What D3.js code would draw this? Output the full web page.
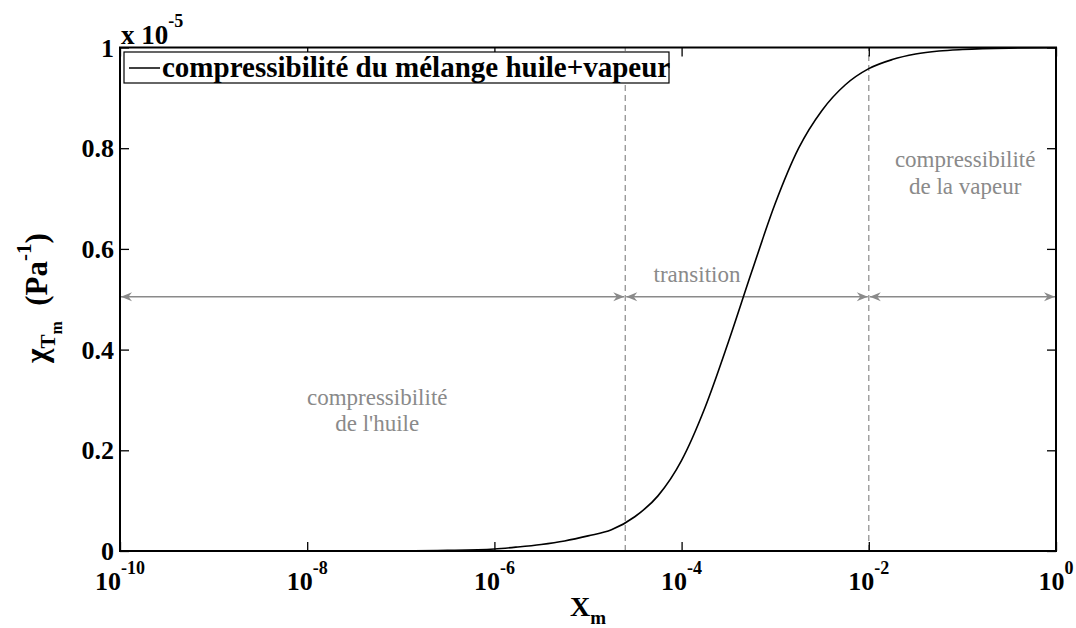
<!DOCTYPE html>
<html>
<head>
<meta charset="utf-8">
<script src="https://cdn.jsdelivr.net/npm/d3@7"></script>
<style>
  body { margin: 0; background: #fff; }
  text { font-family: "Liberation Serif", "Times New Roman", serif; }
</style>
</head>
<body>
<svg id="chart" width="1076" height="628"></svg>
<script>
// Mass fraction of vapour in the mixture (log scale)
const xm = [1e-10, 1e-9, 1e-8, 1e-7, 3.16e-7, 1e-6, 1.78e-6, 3.16e-6, 5.62e-6,
            1e-5, 1.78e-5, 3.16e-5, 5.62e-5, 1e-4, 1.78e-4, 3.16e-4, 5.62e-4,
            1e-3, 1.78e-3, 3.16e-3, 5.62e-3, 1e-2, 1.78e-2, 3.16e-2, 5.62e-2,
            1e-1, 3.16e-1, 1];
// Isothermal compressibility of the oil+vapour mixture, in units of 1e-5 Pa^-1
const chi = [0, 0, 0, 0.0003, 0.0012, 0.004, 0.008, 0.013, 0.02,
             0.03, 0.042, 0.068, 0.11, 0.18, 0.285, 0.415, 0.555,
             0.69, 0.80, 0.875, 0.926, 0.958, 0.976, 0.987, 0.993,
             0.996, 0.9988, 0.9996];

const xTickExp = [-10, -8, -6, -4, -2, 0];
const yTicks = [0, 0.2, 0.4, 0.6, 0.8, 1];
const yTickLabels = ["0", "0.2", "0.4", "0.6", "0.8", "1"];
const yExponent = "-5";

// Region boundaries (dashed lines) and the level of the span arrows
const boundaries = [2.5e-5, 1e-2];
const arrowLevel = 0.505;
const legendLabel = "compressibilité du mélange huile+vapeur";
const regionNotes = [
  { lines: ["compressibilité", "de l'huile"], x: 5.6e-8, y: 0.29 },
  { lines: ["transition"], x: 1.46e-4, y: 0.534 },
  { lines: ["compressibilité", "de la vapeur"], x: 0.107, y: 0.762 }
];

const W = 1076, H = 628;
const m = { left: 120, right: 1056, top: 47.5, bottom: 551 };
const svg = d3.select("#chart");

const x = d3.scaleLog().domain([1e-10, 1]).range([m.left, m.right]);
const y = d3.scaleLinear().domain([0, 1]).range([m.bottom, m.top]);

const tickFont = 26, supFont = 18;
const grey = "#8a8a8a";

// Arrowhead markers (MATLAB vback2 style)
const defs = svg.append("defs");
function marker(id, dir) {
  const mk = defs.append("marker")
    .attr("id", id).attr("viewBox", "-12 -6 14 12")
    .attr("refX", 0).attr("refY", 0)
    .attr("markerWidth", 14).attr("markerHeight", 12)
    .attr("markerUnits", "userSpaceOnUse")
    .attr("orient", dir);
  mk.append("path").attr("d", "M0,0 L-11,-4.5 L-7.5,0 L-11,4.5 Z").attr("fill", grey);
}
marker("arrowEnd", "auto");
marker("arrowStart", "auto-start-reverse");

// Dashed boundaries
svg.selectAll("line.bound").data(boundaries).join("line")
  .attr("class", "bound")
  .attr("x1", d => x(d)).attr("x2", d => x(d))
  .attr("y1", m.bottom).attr("y2", m.top)
  .attr("stroke", grey).attr("stroke-width", 1.2)
  .attr("stroke-dasharray", "6,4");

// Span arrows between the boundaries
const spans = [[1e-10, boundaries[0]], [boundaries[0], boundaries[1]], [boundaries[1], 1]];
svg.selectAll("line.span").data(spans).join("line")
  .attr("class", "span")
  .attr("x1", d => x(d[0]) + 1).attr("x2", d => x(d[1]) - 1)
  .attr("y1", y(arrowLevel)).attr("y2", y(arrowLevel))
  .attr("stroke", grey).attr("stroke-width", 1.6)
  .attr("marker-start", "url(#arrowStart)")
  .attr("marker-end", "url(#arrowEnd)");

// Region notes
regionNotes.forEach(n => {
  const t = svg.append("text")
    .attr("text-anchor", "middle")
    .attr("fill", grey).attr("font-size", 23);
  n.lines.forEach((l, i) => {
    t.append("tspan").attr("x", x(n.x)).attr("y", y(n.y) + i * 26.5).text(l);
  });
});

// Curve
const line = d3.line()
  .x((d, i) => x(xm[i]))
  .y(d => y(d))
  .curve(d3.curveMonotoneX);
svg.append("path").datum(chi)
  .attr("d", line)
  .attr("fill", "none").attr("stroke", "#000").attr("stroke-width", 1.6);

// Axes: inward ticks on all four sides
const xTickVals = xTickExp.map(e => Math.pow(10, e));
const tickLen = 9;
function styleAxis(g) {
  g.select(".domain").remove();
  g.selectAll(".tick line").attr("stroke", "#000").attr("stroke-width", 1.3);
  g.selectAll(".tick text").remove();
}
svg.append("g").attr("transform", `translate(0,${m.bottom})`)
  .call(d3.axisBottom(x).tickValues(xTickVals).tickSizeInner(-tickLen).tickSizeOuter(0))
  .call(styleAxis);
svg.append("g").attr("transform", `translate(0,${m.top})`)
  .call(d3.axisTop(x).tickValues(xTickVals).tickSizeInner(-tickLen).tickSizeOuter(0))
  .call(styleAxis);
svg.append("g").attr("transform", `translate(${m.left},0)`)
  .call(d3.axisLeft(y).tickValues(yTicks).tickSizeInner(-tickLen).tickSizeOuter(0))
  .call(styleAxis);
svg.append("g").attr("transform", `translate(${m.right},0)`)
  .call(d3.axisRight(y).tickValues(yTicks).tickSizeInner(-tickLen).tickSizeOuter(0))
  .call(styleAxis);

// Axes box
svg.append("rect")
  .attr("x", m.left).attr("y", m.top)
  .attr("width", m.right - m.left).attr("height", m.bottom - m.top)
  .attr("fill", "none").attr("stroke", "#000").attr("stroke-width", 2);

// X tick labels 10^e
xTickExp.forEach(e => {
  const t = svg.append("text")
    .attr("x", x(Math.pow(10, e))).attr("y", 590)
    .attr("text-anchor", "middle")
    .attr("font-weight", "bold").attr("font-size", tickFont);
  t.append("tspan").text("10");
  t.append("tspan").attr("font-size", supFont).attr("dy", -16).text(String(e));
});

// Y tick labels
svg.selectAll("text.ytick").data(yTicks).join("text")
  .attr("class", "ytick")
  .attr("x", m.left - 6).attr("y", d => y(d) + 9)
  .attr("text-anchor", "end")
  .attr("font-weight", "bold").attr("font-size", tickFont)
  .text((d, i) => yTickLabels[i]);

// Exponent multiplier
const ex = svg.append("text")
  .attr("x", m.left + 1).attr("y", 44)
  .attr("font-weight", "bold").attr("font-size", 27);
ex.append("tspan").text("x 10");
ex.append("tspan").attr("font-size", supFont).attr("dy", -17).text(yExponent);

// X axis label
const xl = svg.append("text")
  .attr("x", (m.left + m.right) / 2).attr("y", 616)
  .attr("text-anchor", "middle")
  .attr("font-weight", "bold").attr("font-size", 28);
xl.append("tspan").text("X");
xl.append("tspan").attr("font-size", 19).attr("dy", 8).text("m");

// Y axis label
const yl = svg.append("text")
  .attr("transform", `translate(47,${298}) rotate(-90)`)
  .attr("text-anchor", "middle")
  .attr("font-weight", "bold").attr("font-size", 31);
yl.append("tspan").text("χ");
yl.append("tspan").attr("font-size", 21).attr("dy", 8).text("T");
yl.append("tspan").attr("font-size", 16).attr("dy", 7).text("m");
yl.append("tspan").attr("dy", -15).text("\u00a0 (Pa");
yl.append("tspan").attr("font-size", 21).attr("dy", -16).text("-1");
yl.append("tspan").attr("dy", 16).text(")");

// Legend
const lg = svg.append("g");
lg.append("rect")
  .attr("x", 124).attr("y", 52).attr("width", 545).attr("height", 31)
  .attr("fill", "#fff").attr("stroke", "#000").attr("stroke-width", 1.2);
lg.append("line")
  .attr("x1", 129).attr("x2", 160).attr("y1", 68).attr("y2", 68)
  .attr("stroke", "#000").attr("stroke-width", 1.5);
lg.append("text")
  .attr("x", 162).attr("y", 77)
  .attr("font-weight", "bold").attr("font-size", 29)
  .text(legendLabel);
</script>
</body>
</html>
